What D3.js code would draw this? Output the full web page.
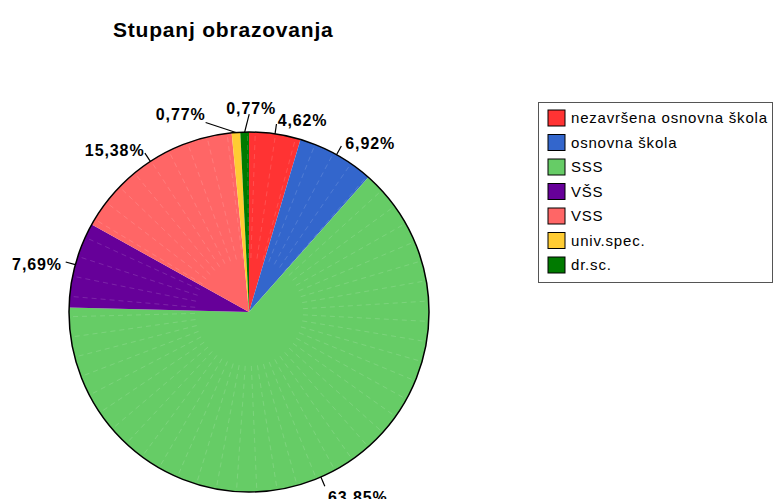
<!DOCTYPE html>
<html>
<head>
<meta charset="utf-8">
<script src="https://cdn.jsdelivr.net/npm/d3@7"></script>
<style>
  body { margin: 0; background: #fff; }
  svg { display: block; font-family: "Liberation Sans", Arial, sans-serif; }
</style>
</head>
<body>
<svg id="chart" width="775" height="499"></svg>
<script>
// pie: stupanj obrazovanja
var categories = ['nezavršena osnovna škola', 'osnovna škola', 'SSS', 'VŠS', 'VSS', 'univ.spec.', 'dr.sc.'];
var values = [4.62, 6.92, 63.85, 7.69, 15.38, 0.77, 0.77];
var colors = ['#ff3333', '#3366cc', '#66cc66', '#660099', '#ff6666', '#ffcc33', '#007a00'];

var svg = d3.select('#chart'),
	cx = 249, cy = 312, r = 180;

svg.append('text')
	.attr('x', 113).attr('y', 37)
	.style('font-size', '21px').style('font-weight', 'bold')
	.style('letter-spacing', '0.8px')
	.text('Stupanj obrazovanja');

var pie = d3.pie().sort(null).value(function (d) { return d; });
var arcs = pie(values);
var arc = d3.arc().innerRadius(0).outerRadius(r);

var g = svg.append('g').attr('transform', 'translate(' + cx + ',' + cy + ')');

g.selectAll('path.slice')
	.data(arcs)
	.enter().append('path')
	.attr('class', 'slice')
	.attr('d', arc)
	.attr('fill', function (d, i) { return colors[i]; });

// faint radial shading lines
g.selectAll('line.shade')
	.data(d3.range(2, 360, 6.5))
	.enter().append('line')
	.attr('class', 'shade')
	.attr('x1', function (a) { return Math.sin(a * Math.PI / 180) * r * 0.3; })
	.attr('y1', function (a) { return -Math.cos(a * Math.PI / 180) * r * 0.3; })
	.attr('x2', function (a) { return Math.sin(a * Math.PI / 180) * r; })
	.attr('y2', function (a) { return -Math.cos(a * Math.PI / 180) * r; })
	.attr('stroke', '#fff')
	.attr('stroke-opacity', 0.18)
	.attr('stroke-dasharray', '5,4')
	.attr('stroke-width', 0.8);

g.append('circle').attr('r', r)
	.attr('fill', 'none').attr('stroke', '#000').attr('stroke-width', 1.5);

// labels
var nudge = {5: {dx: -29, dy: -4}, 6: {dx: 7, dy: -10, anchor: 'middle'}};
arcs.forEach(function (d, i) {
	var a = (d.startAngle + d.endAngle) / 2,
		s = Math.sin(a), c = -Math.cos(a),
		n = nudge[i] || {dx: s < 0 ? 4 : 0, dy: 0},
		lx = s * (r + 18) + n.dx,
		ly = c * (r + 18) + 4 + n.dy,
		anchor = n.anchor || (s >= 0 ? 'start' : 'end'),
		ex = s * (r + 10),
		ey = c * (r + 10);
	if (i === 5) { ex = lx; ey = ly + 8; }
	if (i === 6) { ex = lx - 2; ey = ly + 6; }
	g.append('line')
		.attr('x1', s * r).attr('y1', c * r)
		.attr('x2', ex).attr('y2', ey)
		.attr('stroke', '#000').attr('stroke-width', 1.2);
	g.append('text')
		.attr('x', lx).attr('y', ly)
		.attr('dy', '0.35em')
		.attr('text-anchor', anchor)
		.style('font-size', '16px').style('font-weight', 'bold')
		.style('letter-spacing', '0.9px')
		.text(d3.format('.2f')(values[i]).replace('.', ',') + '%');
});

// legend
var legend = svg.append('g');
legend.append('rect')
	.attr('x', 538.5).attr('y', 102.5).attr('width', 234).attr('height', 180)
	.attr('fill', '#fff').attr('stroke', '#555');

var rows = legend.selectAll('g.row')
	.data(categories)
	.enter().append('g')
	.attr('class', 'row')
	.attr('transform', function (d, i) { return 'translate(0,' + (118 + i * 24.5) + ')'; });

rows.append('rect')
	.attr('x', 548).attr('y', -8).attr('width', 17).attr('height', 16)
	.attr('fill', function (d, i) { return colors[i]; })
	.attr('stroke', '#000').attr('stroke-width', 1);

rows.append('text')
	.attr('x', 571).attr('y', 0).attr('dy', '0.35em')
	.style('font-size', '15px').style('letter-spacing', '0.8px')
	.text(function (d) { return d; });
</script>
</body>
</html>
